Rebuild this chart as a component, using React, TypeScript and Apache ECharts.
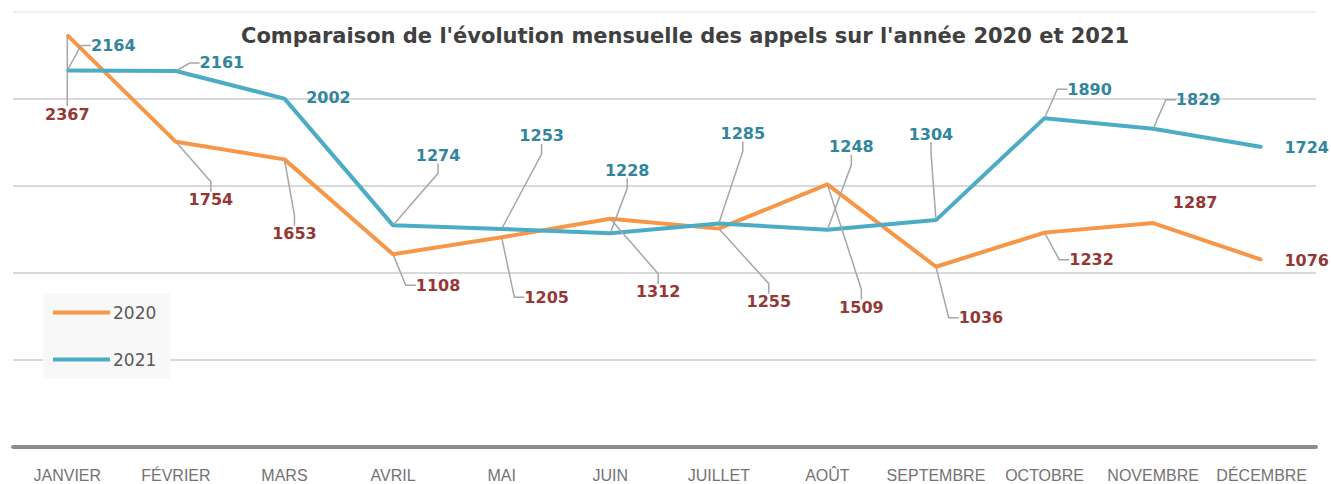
import React, { useEffect, useRef } from "react";
import * as echarts from "echarts";

const months = ["JANVIER", "FÉVRIER", "MARS", "AVRIL", "MAI", "JUIN", "JUILLET", "AOÛT", "SEPTEMBRE", "OCTOBRE", "NOVEMBRE", "DÉCEMBRE"];
const calls2020 = [2367, 1754, 1653, 1108, 1205, 1312, 1255, 1509, 1036, 1232, 1287, 1076];
const calls2021 = [2164, 2161, 2002, 1274, 1253, 1228, 1285, 1248, 1304, 1890, 1829, 1724];
const yMin = 0;
const yMax = 2500;
const yStep = 500;

// label placement (pixel offsets of the label centre from each point) and whether a leader line is drawn
const offsets2020 = [[0, 79], [35, 58], [10, 74], [45, 31], [45, 60], [48, 73], [50, 73], [34, 123], [45, 51], [47, 27], [42, -21], [45, 1]];
const leader2020 = [true, true, true, true, true, true, true, true, true, true, false, false];
const offsets2021 = [[46, -25], [46, -8], [44, -1], [45, -70], [40, -93], [17, -63], [24, -90], [24, -83], [-5, -86], [45, -29], [45, -29], [45, 0]];
const leader2021 = [true, true, false, true, true, true, true, true, true, true, true, false];
const allOffsets = [offsets2020, offsets2021];

const buildData = (values: number[], leaders: boolean[]) =>
  values.map((v, i) => ({
    value: v,
    labelLine: { show: leaders[i] },
  }));

const makeSeries = (name: string, values: number[], leaders: boolean[], color: string, labelColor: string) => ({
  name,
  type: "line",
  data: buildData(values, leaders),
  symbol: "circle",
  symbolSize: 2,
  showSymbol: true,
  lineStyle: { color, width: 4 },
  itemStyle: { color },
  label: {
    show: true,
    position: "inside",
    color: labelColor,
    fontFamily: "DejaVu Sans",
    fontWeight: "bold",
    fontSize: 16,
  },
  labelLine: {
    show: true,
    length2: 10,
    lineStyle: { color: "#a6a6a6", width: 1.5 },
  },
  labelLayout: (params: any) => {
    const off = allOffsets[params.seriesIndex][params.dataIndex];
    const r = params.rect;
    return {
      x: r.x + r.width / 2 + off[0],
      y: r.y + r.height / 2 + off[1],
      align: "center",
      verticalAlign: "middle",
    };
  },
  emphasis: { disabled: true },
});

export default function App() {
  const ref = useRef<HTMLDivElement>(null);
  useEffect(() => {
    if (!ref.current) return;
    const chart = echarts.init(ref.current, null, { renderer: "svg" });
    chart.setOption({
      animation: false,
      backgroundColor: "#ffffff",
      title: {
        text: "Comparaison de l'évolution mensuelle des appels sur l'année 2020 et 2021",
        left: 236,
        top: 20,
        textStyle: { fontFamily: "DejaVu Sans", fontWeight: "bold", fontSize: 21, color: "#404040" },
      },
      legend: {
        orient: "vertical",
        left: 43,
        top: 293,
        icon: "rect",
        itemWidth: 57,
        itemHeight: 4,
        itemGap: 30,
        padding: [11, 14, 11, 10],
        backgroundColor: "#f8f8f8",
        textStyle: { fontFamily: "DejaVu Sans", fontSize: 17, color: "#595959", padding: [0, 0, 0, -2] },
        data: ["2020", "2021"],
      },
      grid: { left: 13, right: 15, top: 12, bottom: 37, outerBoundsMode: "none" },
      xAxis: {
        type: "category",
        data: months,
        boundaryGap: true,
        axisTick: { show: false },
        axisLine: { lineStyle: { color: "#8c8c8c", width: 4 } },
        axisLabel: { interval: 0, margin: 20, color: "#737373", fontFamily: "Liberation Sans", fontSize: 16 },
      },
      yAxis: {
        type: "value",
        min: yMin,
        max: yMax,
        interval: yStep,
        axisLabel: { show: false },
        axisLine: { show: false },
        axisTick: { show: false },
        splitLine: { lineStyle: { color: ["#d9d9d9", "#d9d9d9", "#d9d9d9", "#d9d9d9", "#d9d9d9", "#eeeeee"], width: 2 } },
      },
      series: [
        makeSeries("2020", calls2020, leader2020, "#f79646", "#953735"),
        makeSeries("2021", calls2021, leader2021, "#4bacc6", "#31859c"),
      ],
    });
    return () => chart.dispose();
  }, []);
  return <div ref={ref} style={{ position: "absolute", left: 0, top: 0, width: 1331, height: 484 }} />;
}
